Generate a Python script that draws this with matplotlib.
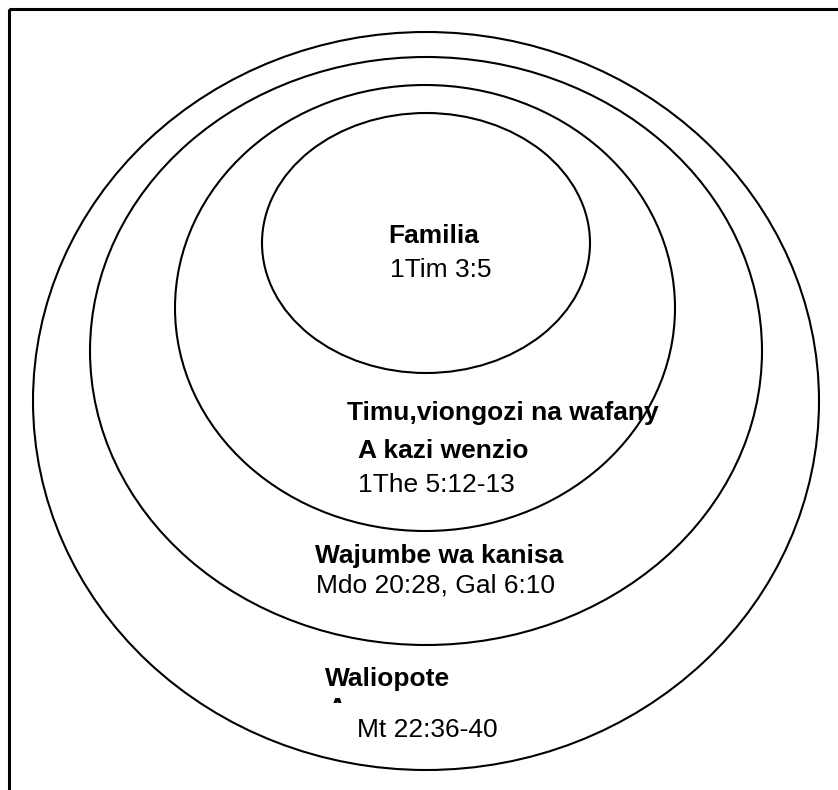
import matplotlib.pyplot as plt
from matplotlib.patches import Ellipse, Rectangle

plt.rcParams['font.family'] = ['Liberation Sans', 'DejaVu Sans']

# circles of responsibility, outer -> inner
groups = ['Waliopote', 'Wajumbe wa kanisa', 'Timu,viongozi na wafany', 'Familia']
verses = ['Mt 22:36-40', 'Mdo 20:28, Gal 6:10', '1The 5:12-13', '1Tim 3:5']

# ellipse geometry in pixels (cx, cy, width, height)
rings = [(426, 401, 786, 738),
         (426, 351, 672, 588),
         (425, 308, 500, 446),
         (426, 243, 328, 260)]

fig = plt.figure(figsize=(8.38, 7.9), dpi=100)
ax = fig.add_axes([0, 0, 1, 1])
ax.set_xlim(0, 838)
ax.set_ylim(790, 0)
ax.axis('off')

# frame (right and bottom fall outside the picture)
ax.add_patch(Rectangle((9, 9), 900, 900, fill=False, lw=2.2, ec='black'))

for cx, cy, w, h in rings:
    ax.add_patch(Ellipse((cx, cy), w, h, fill=False, lw=1.5, ec='black'))

fs = 19
bold = dict(fontsize=fs, fontweight='bold', ha='left', va='baseline')
norm = dict(fontsize=fs, ha='left', va='baseline')

ax.text(388, 243, groups[3], **bold)
ax.text(390, 277, verses[3], **norm)

ax.text(347, 420, groups[2], **bold)
ax.text(358, 458, 'A kazi wenzio', **bold)
ax.text(358, 492, verses[2], **norm)

ax.text(315, 563, groups[1], **bold)
ax.text(316, 592, verses[1], **norm)

ax.text(325, 686, groups[0], **bold)
# second line of this label is cut off by its text box
a = ax.text(327, 716, 'A', clip_on=True, **bold)
clip = Rectangle((300, 690), 80, 13, transform=ax.transData, visible=False)
ax.add_patch(clip)
a.set_clip_path(clip)
ax.text(357, 737, verses[0], **norm)

fig.savefig('out.png', dpi=100)
